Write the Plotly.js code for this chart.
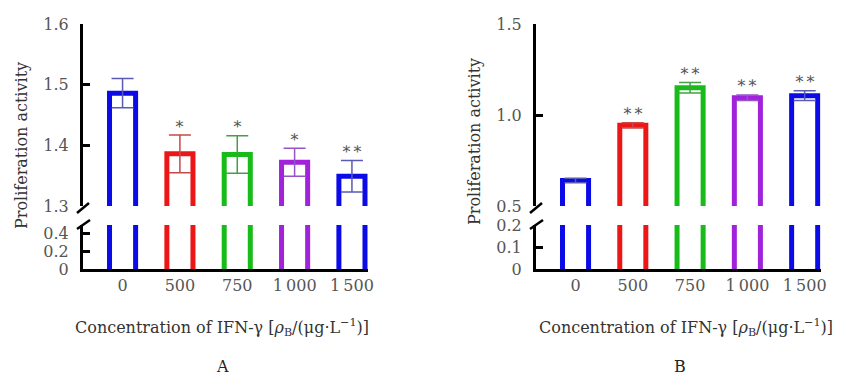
<!DOCTYPE html>
<html><head><meta charset="utf-8">
<script src="https://cdn.plot.ly/plotly-3.0.1.min.js"></script>
<style>html,body{margin:0;padding:0;background:#fff}</style>
</head><body><div id="chart" style="width:850px;height:375px"></div>
<script>
// ---- data ----
const categories = ['0', '500', '750', '1\u2009000', '1\u2009500'];
const valuesA = [1.486, 1.386, 1.385, 1.372, 1.349];
const errorsA = [0.024, 0.031, 0.031, 0.023, 0.026];
const signifA = ['', '*', '*', '*', '**'];
const valuesB = [0.640, 0.943, 1.150, 1.095, 1.106];
const errorsB = [0.012, 0.014, 0.029, 0.015, 0.027];
const signifB = ['', '**', '**', '**', '**'];
const yTicksA_upper = [1.3, 1.4, 1.5, 1.6];
const yTicksA_lower = [0, 0.2, 0.4];
const yTicksB_upper = [0.5, 1.0, 1.5];
const yTicksB_lower = [0, 0.1, 0.2];

// ---- styles ----
const barColors = ['#0b0be8', '#ec1616', '#18bc18', '#a022da', '#0b0be8'];
const errColors = ['#5a5ab4', '#c44a4a', '#44a044', '#9652c8', '#5a5ab4'];
const FONT = '"DejaVu Serif", serif';
const W = 850, H = 375;
const fx = x => x / W, fy = y => 1 - y / H;
const BARW = 0.455;
const BELOW = 0.1; // lower-section bars start below the axis so their bottom edge is hidden

const traces = [];
function addPanel(vals, errs, xa, yLow, yUp) {
  vals.forEach((v, i) => {
    traces.push({
      type: 'bar', x: [categories[i]], y: [v], xaxis: xa, yaxis: yUp, width: BARW,
      marker: {color: 'rgba(0,0,0,0)', line: {color: barColors[i], width: 5}},
      error_y: {type: 'data', array: [errs[i]], color: errColors[i], thickness: 1.5, width: 11},
      hoverinfo: 'skip', showlegend: false
    });
    traces.push({
      type: 'bar', x: [categories[i]], base: [-BELOW], y: [v + BELOW], xaxis: xa, yaxis: yLow, width: BARW,
      marker: {color: 'rgba(0,0,0,0)', line: {color: barColors[i], width: 5}},
      hoverinfo: 'skip', showlegend: false
    });
  });
}
addPanel(valuesA, errorsA, 'x', 'y', 'y2');
addPanel(valuesB, errorsB, 'x2', 'y3', 'y4');

const tickFont = {family: FONT, size: 16, color: '#555'};
function yax(dom, range, ticks, anchor) {
  return {
    domain: [fy(dom[0]), fy(dom[1])], range: range, anchor: anchor,
    tickvals: ticks, ticktext: ticks.map(t => t === 0 ? '0' : t.toFixed(1)),
    ticks: 'inside', ticklen: 7, tickwidth: 3, tickcolor: '#000',
    showline: true, linewidth: 3, linecolor: '#000',
    showgrid: false, zeroline: false, tickfont: tickFont, ticklabelstandoff: 8
  };
}
function xax(dom, anchor) {
  return {
    domain: [fx(dom[0]), fx(dom[1])], range: [-0.69, 4.28], anchor: anchor,
    type: 'category', ticks: '', showline: true, linewidth: 3, linecolor: '#000',
    showgrid: false, zeroline: false, tickfont: tickFont, ticklabelstandoff: 0
  };
}

const annotations = [];
function ann(x, y, text, opts) {
  annotations.push(Object.assign({xref: 'paper', yref: 'paper', x: fx(x), y: fy(y), text: text,
    showarrow: false, xanchor: 'center', yanchor: 'middle',
    font: {family: FONT, size: 16, color: '#333'}}, opts || {}));
}
ann(21, 146, 'Proliferation activity', {textangle: -90});
ann(474, 142, 'Proliferation activity', {textangle: -90});
const xt = 'Concentration of IFN-\u03b3 [<i>\u03c1</i><sub>B</sub>/(\u03bcg\u00b7L<sup>\u22121</sup>)]';
ann(222, 327, xt);
ann(686, 327, xt);
ann(223, 366, 'A', {font: {family: FONT, size: 16, color: '#222'}});
ann(680, 366, 'B', {font: {family: FONT, size: 16, color: '#222'}});
function sig(marks, vals, errs, xa, ya) {
  marks.forEach((m, i) => {
    if (!m) return;
    annotations.push({xref: xa, yref: ya, x: i, y: vals[i] + errs[i],
      text: m.replace(/\*/g, '\u2217'),
      showarrow: false, xanchor: 'center', yanchor: 'middle', yshift: 12,
      font: {family: FONT, size: 16, color: '#555'}});
  });
}
sig(signifA, valuesA, errorsA, 'x', 'y2');
sig(signifB, valuesB, errorsB, 'x2', 'y4');

// axis-break marks + masks for end ticks
const shapes = [];
function mask(ax, y) {
  shapes.push({type: 'rect', xref: 'paper', yref: 'paper', layer: 'above',
    x0: fx(ax + 1.6), x1: fx(ax + 9), y0: fy(y - 2.5), y1: fy(y + 2.5),
    fillcolor: '#fff', line: {width: 0}});
}
function slash(x0, y0, x1, y1) {
  shapes.push({type: 'line', xref: 'paper', yref: 'paper', layer: 'above',
    x0: fx(x0), y0: fy(y0), x1: fx(x1), y1: fy(y1), line: {color: '#000', width: 2.5}});
}
mask(83, 206); mask(536, 206); mask(536, 225);
slash(77, 213, 89, 203); slash(77, 229, 90, 220);
slash(530, 213, 542, 203); slash(530, 229, 543, 220);

const layout = {
  width: W, height: H, margin: {l: 0, r: 0, t: 0, b: 0},
  paper_bgcolor: '#fff', plot_bgcolor: 'rgba(0,0,0,0)', barmode: 'overlay',
  showlegend: false,
  xaxis: xax([83, 368], 'y'),
  xaxis2: xax([536, 820.7], 'y3'),
  yaxis: yax([269, 225], [0, 0.5], yTicksA_lower, 'x'),
  yaxis2: yax([206, 24], [1.3, 1.6], yTicksA_upper, 'x'),
  yaxis3: yax([269, 225], [0, 0.2], yTicksB_lower, 'x2'),
  yaxis4: yax([206, 24], [0.5, 1.5], yTicksB_upper, 'x2'),
  annotations: annotations, shapes: shapes
};
Plotly.newPlot('chart', traces, layout, {staticPlot: true});
</script></body></html>
